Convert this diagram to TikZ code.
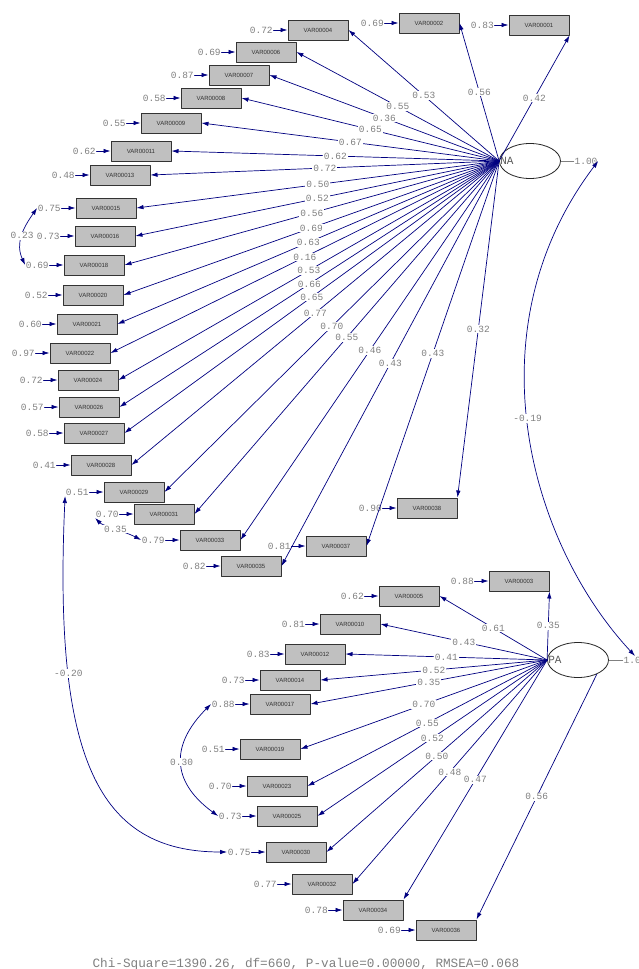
\documentclass[tikz,border=0pt]{standalone}
\usepackage{fontspec}
\setmonofont{Liberation Mono}
\setsansfont{Liberation Sans}
\usepackage{tikz}
\usetikzlibrary{arrows.meta,positioning,shapes.geometric}
\definecolor{semPath}{HTML}{000080}
\definecolor{semText}{HTML}{808080}
\definecolor{semFill}{HTML}{C0C0C0}
\definecolor{semEdge}{HTML}{333333}
\tikzset{
  sem diagram/.style={x=1pt, y=-1pt, line cap=round, line join=round},
  sem box/.style={draw=semEdge, fill=semFill, line width=1pt,
    minimum width=60pt, minimum height=20pt, inner sep=0pt,
    font=\sffamily\fontsize{6}{7}\selectfont, text=black!80},
  sem latent/.style={ellipse, draw=black!85, fill=white, line width=0.8pt,
    minimum width=61pt, minimum height=35pt, inner sep=0pt},
  sem name/.style={font=\ttfamily\fontsize{11}{12}\selectfont, text=black!65, inner sep=1pt},
  sem value/.style={font=\ttfamily\fontsize{9.5}{10}\selectfont, text=semText, inner sep=0.6pt},
  sem coef/.style={sem value, fill=white, inner sep=1pt},
  sem path/.style={draw=semPath, line width=0.7pt, -{Latex[length=7pt,width=4.5pt]}},
  sem cov/.style={sem path, {Latex[length=7pt,width=4.5pt]}-{Latex[length=7pt,width=4.5pt]}},
  sem fixed/.style={draw=semText, line width=0.6pt}
}

\begin{document}
\begin{tikzpicture}[sem diagram]
\useasboundingbox (0,0) rectangle (638,969);
% latent variables
\node[sem latent] (NA) at (530,161) {};
\node[sem name, anchor=west] (NAname) at (NA.west) {NA};
\node[sem latent] (PA) at (578,660) {};
\node[sem name, anchor=west] (PAname) at (PA.west) {PA};
\node[sem value] (NAvar) at (586,161) {1.00};
\node[sem value] (PAvar) at (635,660) {1.00};
\draw[sem fixed] (NA.east) -- (NAvar.west);
\draw[sem fixed] (PA.east) -- (PAvar.west);
% observed variables and error variances
\foreach \n/\x/\y/\e in {01/539/25/0.83, 02/429/23/0.69, 04/318/30/0.72, 06/266/52/0.69,
    07/239/75/0.87, 08/211/98/0.58, 09/171/123/0.55, 11/141/151/0.62, 13/120/175/0.48,
    15/106/208/0.75, 16/105/236/0.73, 18/94/265/0.69, 20/93/295/0.52, 21/87/324/0.60,
    22/80/353/0.97, 24/88/380/0.72, 26/89/407/0.57, 27/94/433/0.58, 28/101/465/0.41,
    29/134/492/0.51, 31/164/514/0.70, 33/210/540/0.79, 35/251/566/0.82, 37/336/546/0.81,
    38/427/508/0.90, 03/519/581/0.88, 05/409/596/0.62, 10/350/624/0.81, 12/315/654/0.83,
    14/290/680/0.73, 17/280/704/0.88, 19/270/749/0.51, 23/277/786/0.70, 25/287/816/0.73,
    30/296/852/0.75, 32/322/884/0.77, 34/373/910/0.78, 36/446/930/0.69}{
  \node[sem box] (v\n) at (\x,\y) {VAR000\n};
  \node[sem value, left=14pt of v\n] (e\n) {\e};
  \draw[sem path] (e\n) -- (v\n);
}
% loadings on NA
\foreach \n/\a/\l in {01/south east/0.42, 02/east/0.56, 04/east/0.53, 06/east/0.55,
    07/east/0.36, 08/east/0.65, 09/east/0.67, 11/east/0.62, 13/east/0.72, 15/east/0.50,
    16/east/0.52, 18/east/0.56, 20/east/0.69, 21/east/0.63, 22/east/0.16, 24/east/0.53,
    26/east/0.66, 27/east/0.65, 28/east/0.77, 29/east/0.70, 31/east/0.55, 33/east/0.46,
    35/east/0.43, 37/east/0.43, 38/north east/0.32}
  \draw[sem path] (NA.west) -- node[sem coef] {\l} (v\n.\a);
% loadings on PA
\foreach \n/\a/\l in {03/south east/0.35, 05/east/0.61, 10/east/0.43, 12/east/0.41,
    14/east/0.52, 17/east/0.35, 19/east/0.70, 23/east/0.55, 25/east/0.52, 30/east/0.50,
    32/east/0.48, 34/north east/0.47}
  \draw[sem path] (PA.west) -- node[sem coef] {\l} (v\n.\a);
\draw[sem path] (PA.-37) -- node[sem coef] {0.56} (v36.north east);
% error covariances
\draw[sem cov] (e15.west) .. controls +(-14,20) and +(-10,-22) .. node[sem coef] {0.23} (e18.west);
\draw[sem cov] (e31.south west) .. controls +(8,8) and +(-15,-8) .. node[sem coef] {0.35} (e33.west);
\draw[sem cov] (e17.west) .. controls +(-40,40) and +(-48,-35) .. node[sem coef] {0.30} (e25.west);
\draw[sem cov] (e29.south west) .. controls +(-12,263) and +(-129,0) .. node[sem coef, pos=0.27] {-0.20} (e30.west);
% factor covariance
\draw[sem cov] (NAvar.east) .. controls +(-128,169) and +(-106,-114) .. node[sem coef, pos=0.48] {-0.19} (PAvar.north);
\node[font=\ttfamily\fontsize{12.7}{14}\selectfont, text=semText, anchor=base] (fitstats) at (306,967)
  {Chi-Square=1390.26, df=660, P-value=0.00000, RMSEA=0.068};
\end{tikzpicture}
\end{document}
